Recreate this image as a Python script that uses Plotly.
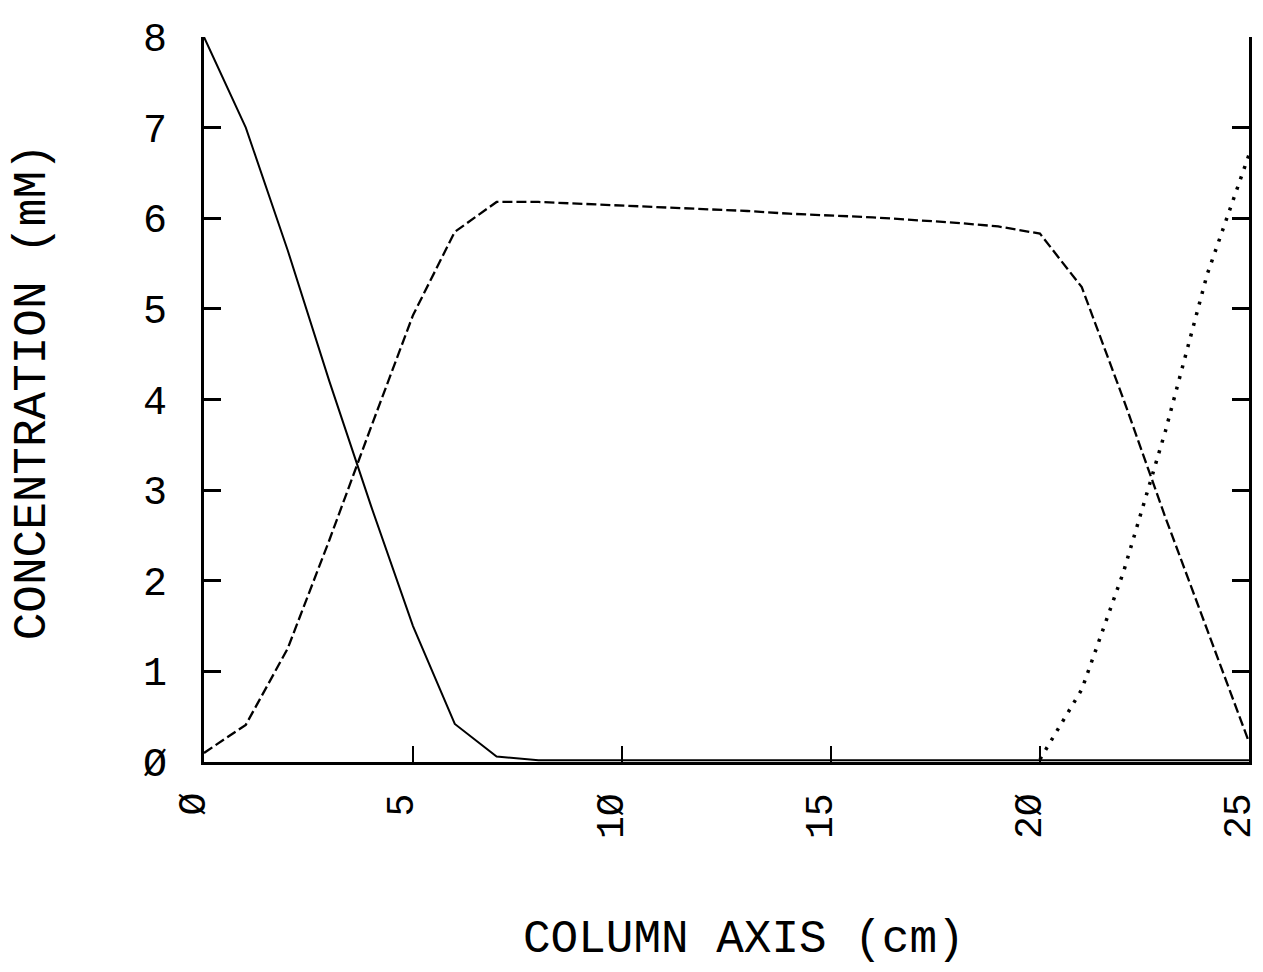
import plotly.graph_objects as go

# Column position (cm) of each computed node
position_cm = list(range(0, 26))

# Concentration profiles along the column (mM)
solid_conc = [8.0, 7.0, 5.65, 4.2, 2.82, 1.5, 0.42, 0.06, 0.02, 0.02, 0.02, 0.02, 0.02,
              0.02, 0.02, 0.02, 0.02, 0.02, 0.02, 0.02, 0.02, 0.02, 0.02, 0.02, 0.02, 0.02]
dashed_conc = [0.1, 0.41, 1.25, 2.45, 3.7, 4.93, 5.85, 6.18, 6.18, 6.16, 6.14, 6.12, 6.10,
               6.08, 6.05, 6.03, 6.01, 5.98, 5.95, 5.91, 5.83, 5.24, 4.0, 2.7, 1.45, 0.22]

# Third species only appears near the outlet
dotted_pos = [20, 21, 22, 23, 24, 25]
dotted_conc = [0.03, 0.8, 2.1, 3.65, 5.38, 6.7]

x_ticks = [0, 5, 10, 15, 20, 25]
x_ticklabels = ["Ø", "5", "1Ø", "15", "2Ø", "25"]
y_ticks = [0, 1, 2, 3, 4, 5, 6, 7, 8]
y_ticklabels = ["Ø", "1", "2", "3", "4", "5", "6", "7", "8"]

FONT = "Liberation Mono"
INK = "#000000"

fig = go.Figure()
fig.add_trace(go.Scatter(x=position_cm, y=solid_conc, mode="lines",
                         line=dict(color=INK, width=2), showlegend=False))
fig.add_trace(go.Scatter(x=position_cm, y=dashed_conc, mode="lines",
                         line=dict(color=INK, width=2.3, dash="10px,4px"), showlegend=False))
fig.add_trace(go.Scatter(x=dotted_pos, y=dotted_conc, mode="lines",
                         line=dict(color=INK, width=3.5, dash="3px,8px"), showlegend=False))
# empty trace that carries the right-hand frame axis
fig.add_trace(go.Scatter(x=[], y=[], yaxis="y2", showlegend=False))

# x tick labels are written sideways, slightly to the left of each tick
x_label_annotations = [
    dict(text=lab, x=val, xref="x", y=0, yref="paper", yshift=-30, xshift=-10,
         xanchor="center", yanchor="top", textangle=-90, showarrow=False, borderpad=0,
         font=dict(family=FONT, size=38, color=INK))
    for val, lab in zip(x_ticks, x_ticklabels)
]

fig.update_layout(
    width=1263, height=972,
    margin=dict(l=204, r=14, t=37, b=210),
    paper_bgcolor="white", plot_bgcolor="white",
    xaxis=dict(range=[0, 25.001], tickvals=x_ticks, showticklabels=False,
               ticks="inside", ticklen=16, tickwidth=2, tickcolor=INK,
               showline=True, linewidth=3, linecolor=INK, showgrid=False, zeroline=False,
               automargin=False),
    yaxis=dict(range=[0, 8], tickvals=y_ticks, ticktext=y_ticklabels,
               ticks="inside", ticklen=17, tickwidth=2.5, tickcolor=INK,
               showline=True, linewidth=3, linecolor=INK, showgrid=False, zeroline=False,
               tickfont=dict(family=FONT, size=40, color=INK), ticklabelstandoff=26,
               automargin=False),
    yaxis2=dict(range=[0, 8], overlaying="y", side="right", tickvals=y_ticks,
                showticklabels=False, ticks="inside", ticklen=17, tickwidth=2.5, tickcolor=INK,
                showline=True, linewidth=3, linecolor=INK, showgrid=False, zeroline=False,
                automargin=False),
    annotations=x_label_annotations + [
        dict(text="COLUMN AXIS (cm)", xref="paper", yref="paper", x=0.5167, y=-0.2455,
             xanchor="center", yanchor="middle", showarrow=False,
             font=dict(family=FONT, size=46, color=INK)),
        dict(text="CONCENTRATION (mM)", xref="paper", yref="paper", x=-0.1636, y=0.51,
             xanchor="center", yanchor="middle", textangle=-90, showarrow=False,
             font=dict(family=FONT, size=46, color=INK)),
    ],
)

fig.write_html("out.html")
